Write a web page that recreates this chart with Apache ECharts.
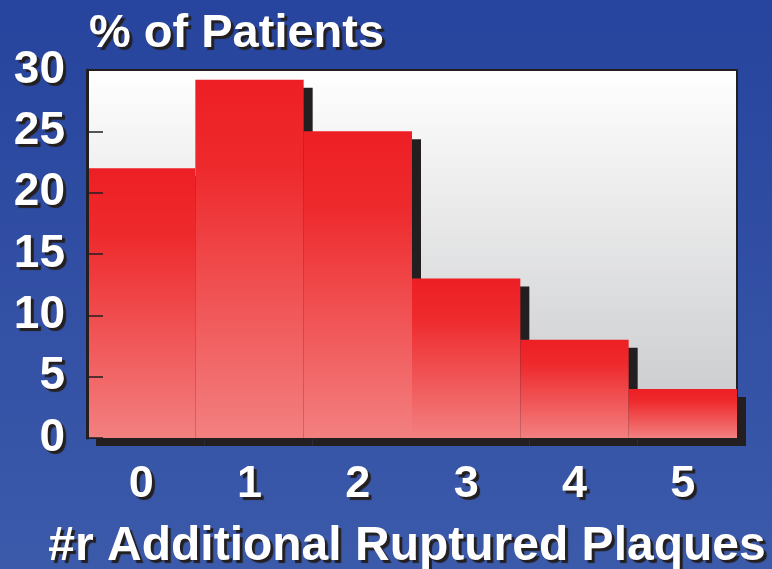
<!DOCTYPE html>
<html><head><meta charset="utf-8">
<script src="https://cdn.jsdelivr.net/npm/echarts@6/dist/echarts.min.js"></script>
<style>html,body{margin:0;padding:0;}#c{width:772px;height:569px;}</style>
</head><body><div id="c"></div>
<script>
var categories = ['0', '1', '2', '3', '4', '5'];
var values = [22, 29.2, 25, 13, 8, 4];
var yTicks = [0, 5, 10, 15, 20, 25, 30];

var chart = echarts.init(document.getElementById('c'));
var txt = {
  color: '#ffffff', fontFamily: 'Liberation Sans, Arial, sans-serif', fontWeight: 'bold', fontSize: 47,
  textShadowColor: '#231f20', textShadowOffsetX: 3, textShadowOffsetY: 3, textShadowBlur: 1
};
chart.setOption({
  backgroundColor: new echarts.graphic.LinearGradient(0, 0, 0, 1, [
    {offset: 0, color: '#27449e'}, {offset: 1, color: '#3c5aaa'}
  ]),
  title: {
    text: '% of Patients', left: 84, top: 6,
    textStyle: Object.assign({}, txt, {fontSize: 47})
  },
  grid: {
    left: 87, right: 35, top: 70, bottom: 131, show: true, outerBoundsMode: 'none', containLabel: false,
    borderColor: '#231f20', borderWidth: 2,
    backgroundColor: new echarts.graphic.LinearGradient(0, 0, 0, 1, [
      {offset: 0, color: '#ffffff'}, {offset: 1, color: '#c6c7c9'}
    ])
  },
  xAxis: {
    type: 'category', data: categories,
    name: '#r Additional Ruptured Plaques', nameLocation: 'middle', nameGap: 85,
    nameTextStyle: Object.assign({}, txt, {fontSize: 48, padding: [0, 10, 0, 0]}),
    axisLine: {lineStyle: {color: '#231f20', width: 2}},
    axisTick: {show: false},
    axisLabel: Object.assign({}, txt, {margin: 24, fontSize: 45})
  },
  yAxis: {
    type: 'value', min: 0, max: 30, interval: 5, z: 5,
    axisLine: {show: true, lineStyle: {color: '#231f20', width: 3}},
    axisTick: {show: true, inside: true, length: 16, lineStyle: {color: '#231f20', width: 1.5}},
    splitLine: {show: false},
    axisLabel: Object.assign({}, txt, {margin: 22, fontSize: 46})
  },
  series: [{
    type: 'bar', data: values, barCategoryGap: '0%',
    itemStyle: {
      color: new echarts.graphic.LinearGradient(0, 0, 0, 1, [
        {offset: 0, color: '#ed1f24'}, {offset: 0.25, color: '#ee2a2d'}, {offset: 1, color: '#f38080'}
      ]),
      shadowColor: '#231f20', shadowOffsetX: 9, shadowOffsetY: 8, shadowBlur: 0
    }
  }]
});
</script></body></html>
